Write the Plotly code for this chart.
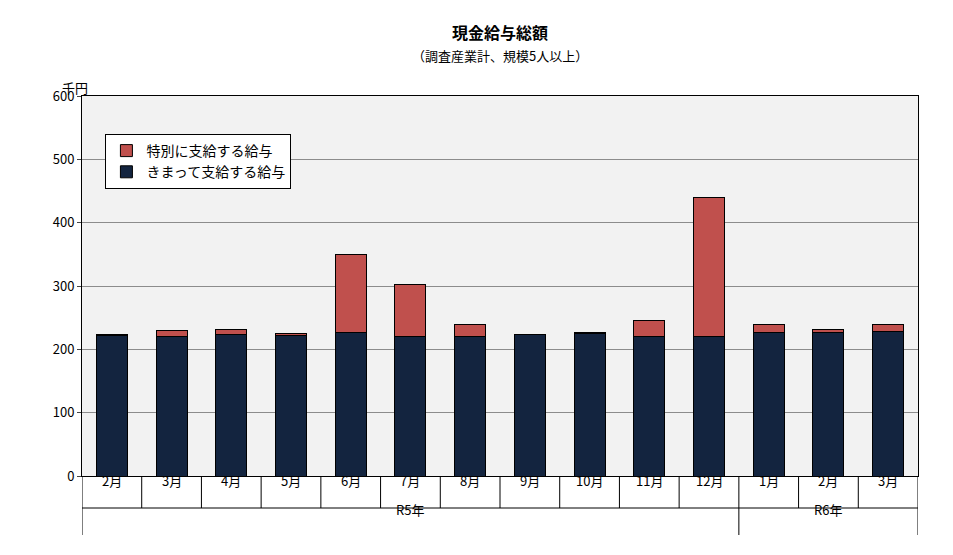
import plotly.graph_objects as go

months = ["2月","3月","4月","5月","6月","7月","8月","9月","10月","11月","12月","1月","2月","3月"]
regular = [222,220,224,222,226,220,220,223,225,221,221,226,226,228]
special = [2,10,7,3,123,83,20,1,1,24,218,13,6,11]
years = [("R5年", 0, 11), ("R6年", 11, 14)]

x = list(range(len(months)))
font = "Noto Sans CJK JP"
fig = go.Figure()
fig.add_bar(x=x, y=regular, name="きまって支給する給与", legendgroup="a", marker=dict(color="#13243f", line=dict(color="black", width=1)), width=0.52)
fig.add_bar(x=x, y=special, name="特別に支給する給与", legendgroup="b", marker=dict(color="#c0504d", line=dict(color="black", width=1)), width=0.52)

shapes = []
def yp(px):
    return (476 - px) / 380
for i in range(len(months) + 1):
    b = i - 0.5
    full = i in (0, 11, 14)
    shapes.append(dict(type="line", xref="x", yref="paper", x0=b, x1=b, y0=0, y1=yp(535 if full else 508), line=dict(color="black", width=1)))
shapes.append(dict(type="line", xref="x", yref="paper", x0=-0.5, x1=13.5, y0=yp(508), y1=yp(508), line=dict(color="black", width=1)))
anns = [dict(x=i, y=yp(492), xref="x", yref="paper", text=m, showarrow=False, font=dict(size=13, color="black", family=font)) for i, m in enumerate(months)]
for name, a, b in years:
    anns.append(dict(x=(a + b - 1) / 2, y=yp(521), xref="x", yref="paper", text=name, showarrow=False, font=dict(size=13, color="black", family=font)))
anns.append(dict(x=-0.026, y=yp(76), xref="paper", yref="paper", text="千円", showarrow=False, font=dict(size=13, color="black", family=font)))
anns.append(dict(x=0.5, xref="paper", y=yp(18), yref="paper", text="<b>現金給与総額</b>", showarrow=False, font=dict(size=16, color="black", family=font)))
anns.append(dict(x=0.5, xref="paper", y=yp(44), yref="paper", text="（調査産業計、規模5人以上）", showarrow=False, font=dict(size=13, color="black", family=font)))

fig.update_layout(
    barmode="stack", width=953, height=555,
    margin=dict(l=74, r=43, t=88, b=87),
    paper_bgcolor="white", plot_bgcolor="#f2f2f2",
    font=dict(family=font, size=13, color="black"),
    showlegend=True,
    legend=dict(x=0.028, y=0.9, xanchor="left", yanchor="top", traceorder="reversed",
                bgcolor="white", bordercolor="black", borderwidth=1,
                font=dict(size=14), itemwidth=30, tracegroupgap=14),
    xaxis=dict(range=[-0.5, 13.5], showticklabels=False, showgrid=False, ticks="",
               showline=True, linecolor="black", mirror=True, zeroline=False),
    yaxis=dict(range=[0, 600], dtick=100, showgrid=True, gridcolor="#8c8c8c",
               showline=True, linecolor="black", mirror=True, ticks="outside", ticklen=4,
               tickfont=dict(size=13), zeroline=False),
    shapes=shapes, annotations=anns,
)
fig.write_html("out.html")
